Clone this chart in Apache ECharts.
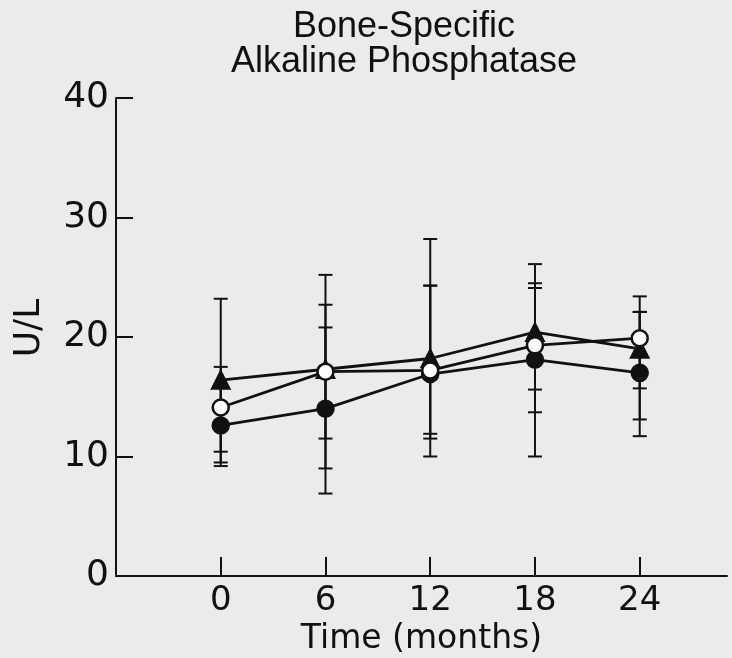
<!DOCTYPE html>
<html>
<head>
<meta charset="UTF-8">
<title>Bone-Specific Alkaline Phosphatase</title>
<style>
    html, body { margin: 0; padding: 0; background: #ebebeb; }
    #chartArea { width: 732px; height: 658px; }
</style>
</head>
<body>
<div id="chartArea"></div>
<script src="https://cdn.jsdelivr.net/npm/echarts@6/dist/echarts.min.js"></script>
<script>
// values (U/L)
var months = [0, 6, 12, 18, 24];
var monthTicks = [0, 6, 12, 18, 24];

var triMean  = [16.4, 17.3, 18.2, 20.4, 19.0];
var triLow   = [9.5, 11.5, 11.9, 13.7, 13.1];
var triHigh  = [23.2, 22.7, 24.3, 26.1, 22.1];

var openMean = [14.1, 17.1, 17.2, 19.3, 19.9];
var openLow  = [10.4, 9.0, 10.0, 15.6, 15.7];
var openHigh = [17.5, 25.2, 28.2, 24.1, 23.4];

var fillMean = [12.6, 14.0, 16.9, 18.1, 17.0];
var fillLow  = [9.2, 6.9, 11.5, 10.0, 11.7];
var fillHigh = [16.0, 20.8, 24.3, 24.5, 22.1];

var ink = '#111';

function pairs(ys) {
    return months.map(function (m, i) { return [m, ys[i]]; });
}

// vertical bar with a cap at each end
function errorBars(lo, hi) {
    return {
        type: 'custom',
        silent: true,
        z: 1,
        data: months.map(function (m, i) { return [m, lo[i], hi[i]]; }),
        encode: { x: 0, y: [1, 2] },
        renderItem: function (params, api) {
            var b = api.coord([api.value(0), api.value(1)]);
            var t = api.coord([api.value(0), api.value(2)]);
            var w = 7;
            var st = { stroke: ink, lineWidth: 2 };
            return {
                type: 'group',
                children: [
                    { type: 'line', shape: { x1: b[0], y1: b[1], x2: t[0], y2: t[1] }, style: st },
                    { type: 'line', shape: { x1: b[0] - w, y1: b[1], x2: b[0] + w, y2: b[1] }, style: st },
                    { type: 'line', shape: { x1: t[0] - w, y1: t[1], x2: t[0] + w, y2: t[1] }, style: st }
                ]
            };
        }
    };
}

function meanLine(ys, symbol, size, fill) {
    return {
        type: 'line',
        z: 3,
        data: pairs(ys),
        symbol: symbol,
        symbolSize: size,
        showAllSymbol: true,
        lineStyle: { color: ink, width: 2.8 },
        itemStyle: { color: fill, borderColor: ink, borderWidth: 2.5 }
    };
}

var myChart = echarts.init(document.getElementById('chartArea'));
myChart.setOption({
    animation: false,
    backgroundColor: '#ebebeb',
    title: {
        text: 'Bone-Specific\nAlkaline Phosphatase',
        left: 404,
        top: 10,
        padding: 0,
        textAlign: 'center',
        textStyle: {
            fontFamily: 'Liberation Sans',
            fontWeight: 'normal',
            fontSize: 36,
            lineHeight: 35,
            color: ink
        }
    },
    grid: { left: 116, top: 98, right: 5, bottom: 82, outerBoundsMode: 'none', containLabel: false },
    xAxis: {
        type: 'value',
        min: -6,
        max: 29,
        interval: 6,
        name: 'Time (months)',
        nameLocation: 'middle',
        nameGap: 45,
        nameTextStyle: { fontFamily: 'DejaVu Sans', fontSize: 33, color: ink },
        axisLine: { show: true, lineStyle: { color: ink, width: 2 } },
        axisTick: { show: true, inside: true, length: 19, customValues: monthTicks, lineStyle: { color: ink, width: 2 } },
        axisLabel: { customValues: monthTicks, margin: 8, fontFamily: 'DejaVu Sans', fontSize: 34, color: ink },
        splitLine: { show: false }
    },
    yAxis: {
        type: 'value',
        min: 0,
        max: 40,
        interval: 10,
        name: 'U/L',
        nameLocation: 'middle',
        nameGap: 68,
        nameRotate: 90,
        nameTextStyle: { fontFamily: 'DejaVu Sans', fontSize: 36, color: ink, padding: [0, 0, 0, 18] },
        axisLine: { show: true, onZero: false, lineStyle: { color: ink, width: 2 } },
        axisTick: { show: true, inside: true, length: 17, lineStyle: { color: ink, width: 2 } },
        axisLabel: { margin: 7, fontFamily: 'DejaVu Sans', fontSize: 36, color: ink },
        splitLine: { show: false }
    },
    series: [
        errorBars(triLow, triHigh),
        errorBars(fillLow, fillHigh),
        errorBars(openLow, openHigh),
        meanLine(triMean, 'triangle', 17, ink),
        meanLine(fillMean, 'circle', 16, ink),
        meanLine(openMean, 'circle', 16, '#fff')
    ]
});
</script>
</body>
</html>
